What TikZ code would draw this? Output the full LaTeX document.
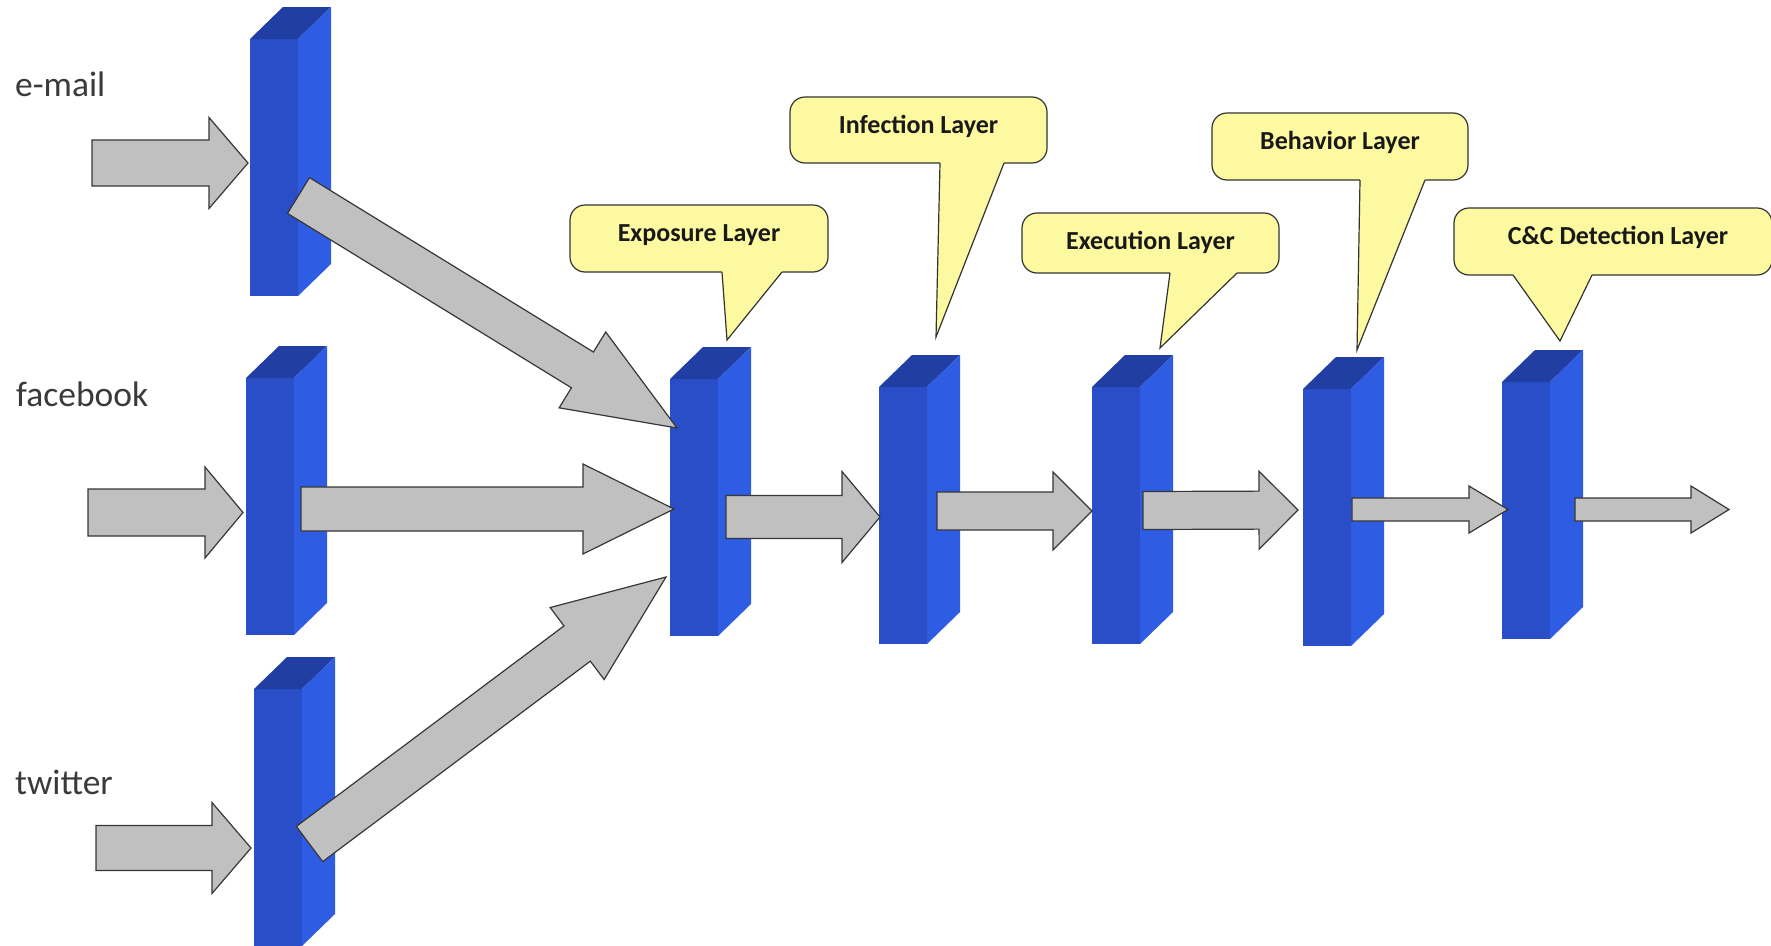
\documentclass[tikz,border=0pt]{standalone}
\usepackage{fontspec}
\setmainfont{Carlito}
\usetikzlibrary{calc}

\definecolor{blockfront}{RGB}{41,78,200}
\definecolor{blockside}{RGB}{46,92,226}
\definecolor{blocktop}{RGB}{33,62,162}
\definecolor{arrowfill}{RGB}{192,192,192}
\definecolor{arrowline}{RGB}{55,55,55}
\definecolor{balloonfill}{RGB}{252,249,160}
\definecolor{labelgray}{RGB}{58,58,58}

\tikzset{
  layerblock/.style={fill=blockfront, inner sep=0pt, outer sep=0pt,
    minimum width=48pt, minimum height=257pt, anchor=north west},
  fatarrow/.style={fill=arrowfill, draw=arrowline, line width=1.2pt, line join=miter},
  balloon/.style={fill=balloonfill, draw=black!80, line width=1.2pt,
    rounded corners=15pt, inner sep=0pt, outer sep=0pt, anchor=north west},
  balloonedge/.style={draw=black!80, line width=1.2pt},
  balloontext/.style={font=\fontsize{26pt}{30pt}\selectfont\bfseries,
    text=black!90, anchor=base, inner sep=0pt},
  sourcelabel/.style={font=\fontsize{35.5pt}{42pt}\selectfont,
    text=labelgray, anchor=base west, inner sep=0pt},
}

% a 3-D layer slab: front face node plus top and side faces
\newcommand\layerslab[3]{% name, x, y of the front face's top-left corner
  \node[layerblock] (#1) at (#2,#3) {};
  \fill[blocktop] (#1.north west) -- ++(33,-32) -- ++(48,0) -- (#1.north east) -- cycle;
  \fill[blockside] (#1.north east) -- ++(33,-32) -- ++(0,257) -- (#1.south east) -- cycle;
}

% block arrow: tail, tip, shaft half-width, head half-width, head length
\newcommand\fatarrow[5]{%
  \coordinate (fa-base) at ($(#2)!#5!(#1)$);
  \draw[fatarrow]
    ($(#1)!#3!90:(#2)$) -- ($(fa-base)!#3!90:(#2)$) -- ($(fa-base)!#4!90:(#2)$)
    -- (#2)
    -- ($(fa-base)!#4!-90:(#2)$) -- ($(fa-base)!#3!-90:(#2)$) -- ($(#1)!#3!-90:(#2)$)
    -- cycle;
}

% speech balloon: name, x, y, width, height, caption, caption x shift
\newcommand\balloonbox[7]{%
  \node[balloon, minimum width=#4pt, minimum height=#5pt] (#1) at (#2,#3) {};
  \node[balloontext] (#1-text) at ($(#1.north)+(#7,36.5)$) {#6};
}
% balloon pointer: name, base left offset, base right offset, tip
\newcommand\balloontail[4]{%
  \fill[balloonfill] ($(#1.south west)+(#2,0)$) -- (#4) -- ($(#1.south west)+(#3,0)$)
    -- ($(#1.south west)+(#3,-4)$) -- ($(#1.south west)+(#2,-4)$) -- cycle;
  \draw[balloonedge] ($(#1.south west)+(#2,0)$) -- (#4) -- ($(#1.south west)+(#3,0)$);
}

\begin{document}
\begin{tikzpicture}[x=1pt, y=-1pt]
\useasboundingbox (0,0) rectangle (1771,945);
\clip (0,0) rectangle (1771,945);
\fill[white] (0,0) rectangle (1771,945);

% source labels
\node[sourcelabel] (lmail) at (15,96) {e-mail};
\node[sourcelabel] (lfb) at (16,406) {facebook};
\node[sourcelabel] (ltw) at (15,794) {twitter};

% layer slabs
\layerslab{mail}{250}{39}
\layerslab{fb}{246}{378}
\layerslab{tw}{254}{689}
\layerslab{expo}{670}{379}
\layerslab{infe}{879}{387}
\layerslab{exe}{1092}{387}
\layerslab{beha}{1303}{389}
\layerslab{cnc}{1502}{382}

% arrow end points
\coordinate (mailSrc) at (92,163);
\coordinate (fbSrc) at (88,512.5);
\coordinate (twSrc) at (96,848);
\coordinate (mailIn) at ($(mail.west)+(-2,-4.5)$);
\coordinate (fbIn) at ($(fb.west)+(-3,6)$);
\coordinate (twIn) at ($(tw.west)+(-3,30.5)$);
\coordinate (mailOut) at ($(mail.east)+(0.5,28)$);
\coordinate (fbOut) at ($(fb.east)+(7,2.5)$);
\coordinate (twOut) at ($(tw.east)+(7.5,26.5)$);
\coordinate (expoInMail) at ($(expo.west)+(7,-79.5)$);
\coordinate (expoInFb) at ($(expo.west)+(4,1.5)$);
\coordinate (expoInTw) at ($(expo.west)+(-4,69.5)$);
\coordinate (expoOut) at ($(expo.east)+(8,9.5)$);
\coordinate (infeIn) at ($(infe.west)+(1,1.5)$);
\coordinate (infeOut) at ($(infe.east)+(10,-4.5)$);
\coordinate (exeIn) at ($(exe.west)+(0,-4.5)$);
\coordinate (exeOut) at ($(exe.east)+(3,-5)$);
\coordinate (behaIn) at ($(beha.west)+(-5,-7.5)$);
\coordinate (behaOut) at ($(beha.east)+(1,-8)$);
\coordinate (cncIn) at ($(cnc.west)+(6,-1)$);
\coordinate (cncOut) at ($(cnc.east)+(25,-1)$);
\coordinate (sinkEnd) at (1729,509.5);

% block arrows
\fatarrow{mailSrc}{mailIn}{23pt}{45.5pt}{39pt}
\fatarrow{fbSrc}{fbIn}{23.5pt}{45.5pt}{38pt}
\fatarrow{twSrc}{twIn}{22.5pt}{45.5pt}{39pt}
\fatarrow{mailOut}{expoInMail}{21pt}{44.5pt}{111pt}
\fatarrow{fbOut}{expoInFb}{22pt}{45pt}{91pt}
\fatarrow{twOut}{expoInTw}{22pt}{45pt}{111pt}
\fatarrow{expoOut}{infeIn}{21.5pt}{45.5pt}{38pt}
\fatarrow{infeOut}{exeIn}{19pt}{39pt}{39pt}
\fatarrow{exeOut}{behaIn}{19pt}{39pt}{39pt}
\fatarrow{behaOut}{cncIn}{11.5pt}{23.5pt}{39pt}
\fatarrow{cncOut}{sinkEnd}{11.5pt}{23.5pt}{38pt}

% speech balloons naming the layers
\coordinate (expoTip) at (727,340);
\coordinate (infeTip) at (936,337);
\coordinate (exeTip) at (1160,348);
\coordinate (behaTip) at (1357,350);
\coordinate (cncTip) at (1560,341);

\balloonbox{bExpo}{570}{205}{258}{67}{Exposure Layer}{0}
\balloontail{bExpo}{152}{212}{expoTip}
\balloonbox{bInfe}{790}{97}{257}{66}{Infection Layer}{0}
\balloontail{bInfe}{150}{214}{infeTip}
\balloonbox{bExe}{1022}{213}{257}{60}{Execution Layer}{0}
\balloontail{bExe}{148}{215}{exeTip}
\balloonbox{bBeha}{1212}{113}{256}{67}{Behavior Layer}{0}
\balloontail{bBeha}{148}{213}{behaTip}
\balloonbox{bCnc}{1454}{208}{318}{67}{C\&C Detection Layer}{5}
\balloontail{bCnc}{59}{138}{cncTip}
\end{tikzpicture}
\end{document}
